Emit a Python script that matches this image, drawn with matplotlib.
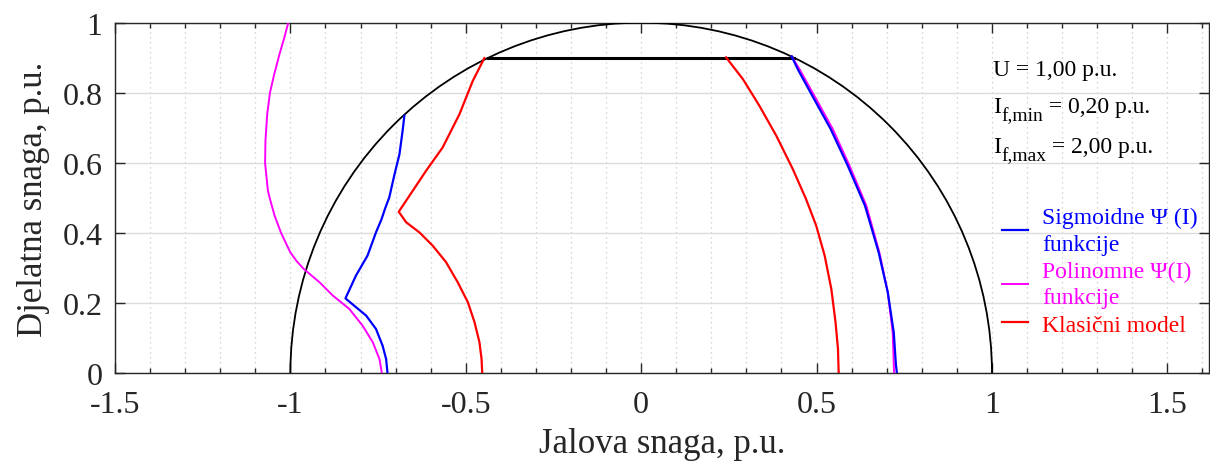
import matplotlib
matplotlib.use("Agg")
import matplotlib.pyplot as plt
from matplotlib.patches import Arc
from matplotlib.ticker import MultipleLocator

plt.rcParams['font.family'] = ['Liberation Serif', 'DejaVu Serif']

# values
# stability / capability limit circle (radius in p.u.) and the P = 0.9 chord
circle_radius = 1.0
chord_x = [-0.436, 0.436]
chord_y = [0.9, 0.9]

# Sigmoidne Psi(I) funkcije - left branch (under-excited) and right branch
sig_left_x = [-0.675, -0.680, -0.689, -0.703, -0.718, -0.730, -0.740, -0.756, -0.780,
              -0.813, -0.843, -0.813, -0.784, -0.756, -0.737, -0.727, -0.723]
sig_left_y = [0.735, 0.692, 0.625, 0.568, 0.502, 0.470, 0.440, 0.402, 0.336,
              0.279, 0.214, 0.189, 0.165, 0.127, 0.079, 0.041, 0.0]
sig_right_x = [0.429, 0.446, 0.493, 0.540, 0.589, 0.638, 0.677, 0.703, 0.720, 0.726, 0.729]
sig_right_y = [0.904, 0.868, 0.782, 0.697, 0.592, 0.478, 0.345, 0.231, 0.117, 0.027, 0.0]

# Polinomne Psi(I) funkcije
pol_left_x = [-1.006, -1.017, -1.031, -1.046, -1.058, -1.066, -1.071, -1.072, -1.064,
              -1.058, -1.045, -1.027, -1.013, -1.000, -0.982, -0.962, -0.917, -0.879,
              -0.832, -0.794, -0.765, -0.746, -0.739]
pol_left_y = [1.0, 0.958, 0.910, 0.853, 0.801, 0.739, 0.663, 0.599, 0.521,
              0.497, 0.450, 0.402, 0.372, 0.345, 0.320, 0.298, 0.260, 0.222,
              0.184, 0.136, 0.089, 0.041, 0.0]
pol_right_x = [0.429, 0.451, 0.499, 0.546, 0.594, 0.642, 0.679, 0.703, 0.717, 0.720, 0.721]
pol_right_y = [0.904, 0.868, 0.782, 0.697, 0.592, 0.478, 0.345, 0.231, 0.117, 0.027, 0.0]

# Klasicni model
kl_left_x = [-0.447, -0.480, -0.518, -0.566, -0.613, -0.651, -0.691, -0.670, -0.632,
             -0.594, -0.556, -0.523, -0.494, -0.475, -0.461, -0.455, -0.453]
kl_left_y = [0.899, 0.834, 0.739, 0.644, 0.578, 0.521, 0.461, 0.431, 0.402,
             0.364, 0.317, 0.260, 0.203, 0.146, 0.089, 0.041, 0.0]
kl_right_x = [0.242, 0.290, 0.337, 0.385, 0.432, 0.470, 0.499, 0.523, 0.542, 0.554, 0.561, 0.563]
kl_right_y = [0.901, 0.839, 0.763, 0.678, 0.583, 0.497, 0.421, 0.336, 0.241, 0.146, 0.070, 0.0]

legend_labels = ['Sigmoidne \u03a8 (I)\nfunkcije', 'Polinomne \u03a8(I)\nfunkcije',
                 'Klasi\u010dni model']

# parameter box: main symbol, subscript, rest of the line
info_main = ['U', 'I', 'I']
info_sub = ['', 'f,min', 'f,max']
info_rest = [' = 1,00 p.u.', ' = 0,20 p.u.', ' = 2,00 p.u.']
info_y = [0.867, 0.762, 0.648]

fig = plt.figure(figsize=(12.1, 4.64), dpi=100)
ax = fig.add_axes([0.095, 0.193, 0.904, 0.756])

dark = '#262626'

ax.add_patch(Arc((0, 0), 2 * circle_radius, 2 * circle_radius, theta1=0, theta2=180,
                 color='black', lw=1.3, zorder=3))
ax.plot(chord_x, chord_y, color='black', lw=2.2, zorder=3)

l1, = ax.plot(sig_left_x, sig_left_y, color='#0000ff', lw=1.6, zorder=4)
ax.plot(sig_right_x, sig_right_y, color='#0000ff', lw=1.6, zorder=4)
l2, = ax.plot(pol_left_x, pol_left_y, color='#ff00ff', lw=1.4, zorder=4)
ax.plot(pol_right_x, pol_right_y, color='#ff00ff', lw=1.4, zorder=3.9)
l3, = ax.plot(kl_left_x, kl_left_y, color='#ff0000', lw=1.6, zorder=4)
ax.plot(kl_right_x, kl_right_y, color='#ff0000', lw=1.6, zorder=4)

ax.set_xlim(-1.5, 1.618)
ax.set_ylim(0, 1)
ax.xaxis.set_minor_locator(MultipleLocator(0.1))
ax.set_xticks([-1.5, -1, -0.5, 0, 0.5, 1, 1.5])
ax.set_xticklabels(['-1.5', '-1', '-0.5', '0', '0.5', '1', '1.5'])
ax.set_yticks([0, 0.2, 0.4, 0.6, 0.8, 1])
ax.set_yticklabels(['0', '0.2', '0.4', '0.6', '0.8', '1'])

ax.grid(axis='y', which='major', color='#dcdcdc', lw=1.0, linestyle='-')
ax.grid(axis='x', which='both', color='#c8c8c8', lw=0.9, linestyle=(0, (1, 3)))
ax.set_axisbelow(True)

ax.tick_params(which='both', direction='in', top=True, right=True, colors=dark,
               labelsize=23, width=1.0)
ax.tick_params(which='major', length=7)
ax.tick_params(which='minor', length=3.5)
ax.tick_params(axis='x', pad=12)
ax.tick_params(axis='y', pad=9)
for s in ax.spines.values():
    s.set_color(dark)
    s.set_linewidth(1.0)

ax.set_xlabel('Jalova snaga, p.u.', fontsize=25, color=dark, labelpad=6)
ax.set_ylabel('Djelatna snaga, p.u.', fontsize=25, color=dark, labelpad=9)

for m, sub, rest, yy in zip(info_main, info_sub, info_rest, info_y):
    t1 = ax.text(1.002, yy, m, fontsize=17, color='black', va='center', ha='left')
    prev = t1
    if sub:
        prev = ax.annotate(sub, xy=(1, 0), xycoords=t1, xytext=(0.3, -2.2),
                           textcoords='offset points', fontsize=14, color='black',
                           va='baseline', ha='left')
    ax.annotate(rest, xy=(1, 0), xycoords=(prev, t1), fontsize=17, color='black',
                va='bottom', ha='left')

leg = ax.legend([l1, l2, l3], legend_labels,
                loc='upper left', bbox_to_anchor=(0.811, 0.475), frameon=False, fontsize=17,
                labelcolor='linecolor', handlelength=1.1, handletextpad=0.6,
                labelspacing=0.25, borderpad=0, borderaxespad=0)
for t in leg.get_texts():
    t.set_linespacing(1.35)

fig.savefig('out.png', dpi=100)
